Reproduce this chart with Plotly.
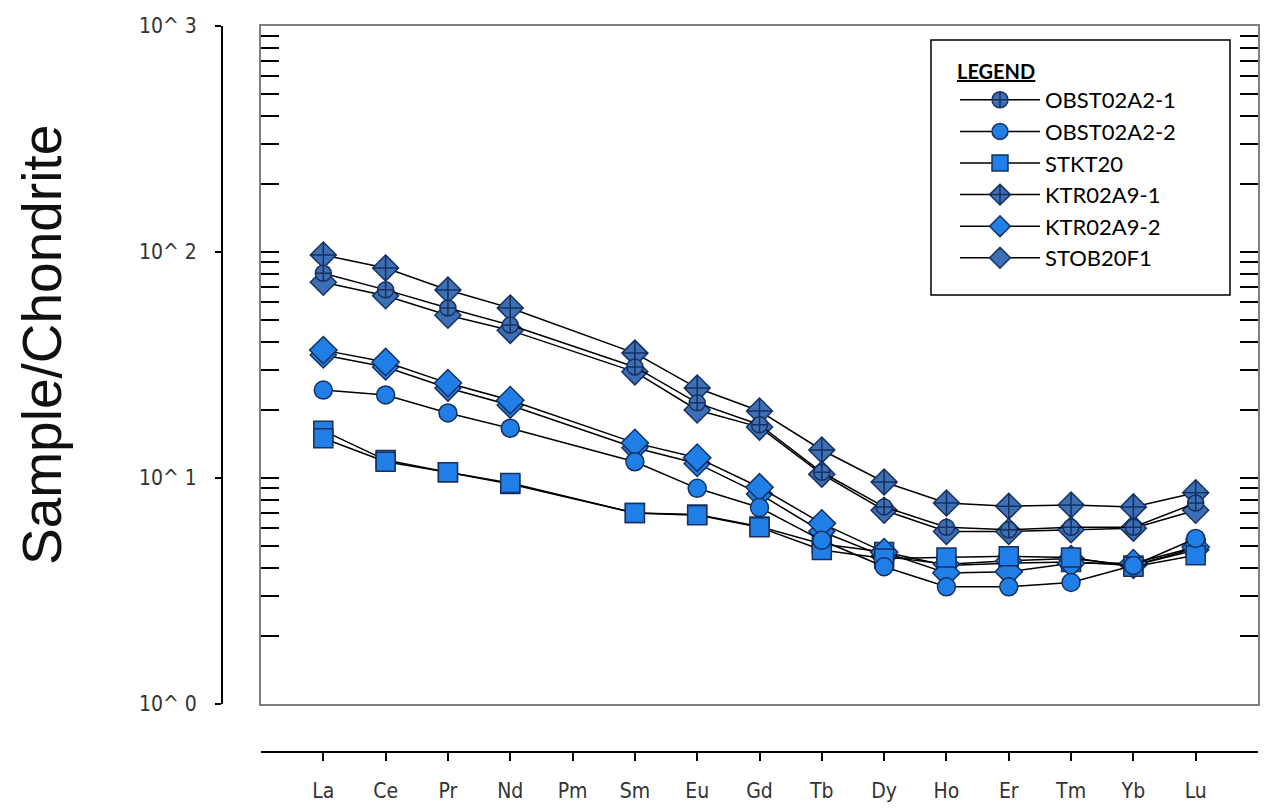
import plotly.graph_objects as go

elements = ["La", "Ce", "Pr", "Nd", "Pm", "Sm", "Eu", "Gd", "Tb", "Dy", "Ho", "Er", "Tm", "Yb", "Lu"]

OBST02A2_1 = [80.5, 68, 56.5, 47.5, None, 31, 21.5, 17.2, 10.6, 7.45, 6.05, 5.9, 6.05, 6.05, 7.75]
OBST02A2_2 = [24.5, 23.3, 19.4, 16.6, None, 11.8, 9.0, 7.4, 5.3, 4.05, 3.3, 3.3, 3.45, 4.1, 5.4]
STKT20 = [15.0, 11.8, 10.6, 9.5, None, 7.0, 6.85, 6.05, 4.8, 4.4, 4.45, 4.5, 4.45, 4.05, 4.55]
KTR02A9_1 = [97, 85, 67.9, 56.5, None, 35.7, 25.0, 19.8, 13.3, 9.6, 7.75, 7.5, 7.6, 7.45, 8.6]
KTR02A9_2 = [36.8, 32.6, 26.3, 22.1, None, 14.3, 12.3, 9.1, 6.3, 4.7, 3.8, 3.85, 4.2, 4.2, 4.95]
STOB20F1 = [73.5, 64, 52.5, 45, None, 29.5, 20, 16.8, 10.4, 7.2, 5.8, 5.8, 5.9, 6.0, 7.2]
extra_diamond = [35, 31, 25, 21, None, 13.6, 11.6, 8.5, 5.8, 4.5, 4.15, 4.3, 4.4, 4.1, 4.8]
extra_square = [16.2, 12.0, 10.6, 9.4, None, 7.0, 6.9, 6.1, 5.1, 4.7, 4.1, 4.2, 4.25, 4.1, 4.9]

y_tick_vals = [1, 10, 100, 1000]
y_tick_text = ["10^ 0", "10^ 1", "10^ 2", "10^ 3"]
y_minor_vals = [m * d for d in (1, 10, 100) for m in range(2, 10)]

BRIGHT = "#1f7fe6"
DARK = "#3c6fb4"
EDGE = "#17305f"

xs = list(range(len(elements)))

series = [
    ("OBST02A2-1", OBST02A2_1, "circle-cross", 16, DARK, True),
    ("OBST02A2-2", OBST02A2_2, "circle", 18, BRIGHT, True),
    ("STKT20", STKT20, "square", 19, BRIGHT, True),
    ("KTR02A9-1", KTR02A9_1, "diamond-cross", 20, DARK, True),
    ("KTR02A9-2", KTR02A9_2, "diamond", 21, BRIGHT, True),
    ("STOB20F1", STOB20F1, "diamond", 20, DARK, True),
    ("", extra_diamond, "diamond", 20, BRIGHT, False),
    ("", extra_square, "square", 19, BRIGHT, False),
]
names = [s[0] for s in series]

fig = go.Figure()
for name, vals, sym, size, col, show in series[::-1]:
    fig.add_trace(go.Scatter(
        x=xs, y=vals, mode="lines+markers", name=name, showlegend=show,
        connectgaps=True,
        line=dict(color="black", width=1.5),
        marker=dict(symbol=sym, size=size, color=col, line=dict(color=EDGE, width=1.5)),
        legendrank=names.index(name) if show else 1000,
    ))

fig.add_trace(go.Scatter(x=[None], y=[None], xaxis="x2", yaxis="y2",
                         showlegend=False, hoverinfo="skip"))

L, R, T, B = 10, 9, 26, 10
W, H = 1267, 808
pw = W - L - R
ph = H - T - B
def px_x(p):
    return (p - L) / pw
def px_y(p):
    return (H - B - p) / ph

xdom = [px_x(261), 1]
ydom = [px_y(704), 1]

axis_font = dict(family="Liberation Sans Narrow, DejaVu Sans Condensed, Roboto Condensed, sans-serif",
                 size=21, color="#333333")

fig.update_layout(
    width=W, height=H,
    margin=dict(l=L, r=R, t=T, b=B, autoexpand=False),
    paper_bgcolor="white", plot_bgcolor="white",
    showlegend=True,
    legend=dict(
        x=px_x(955), y=px_y(53), xanchor="left", yanchor="top",
        bgcolor="rgba(0,0,0,0)", borderwidth=0,
        font=dict(family="Lato, Open Sans, sans-serif", size=22, color="black"),
        title=dict(text="<b><u>LEGEND</u></b>", font=dict(family="Lato, Open Sans, sans-serif", size=20)),
        itemwidth=80,
    ),
    shapes=[dict(type="rect", xref="paper", yref="paper",
                 x0=px_x(931), x1=px_x(1230), y0=px_y(295), y1=px_y(40),
                 line=dict(color="black", width=1.5), fillcolor="white", layer="above")],
    xaxis=dict(domain=xdom, range=[-1, 15], showgrid=False, zeroline=False,
               showticklabels=False, ticks="", showline=True, mirror=True,
               linecolor="#7f7f7f", linewidth=2, automargin=False),
    yaxis=dict(domain=ydom, type="log", range=[0, 3], showgrid=False, zeroline=False,
               showticklabels=False, tickvals=y_tick_vals, ticks="inside", ticklen=18,
               tickwidth=2, tickcolor="black",
               minor=dict(tickvals=y_minor_vals, ticks="inside", ticklen=18, tickwidth=2,
                          tickcolor="black", showgrid=False),
               showline=True, mirror="allticks", linecolor="#7f7f7f", linewidth=2,
               automargin=False),
    xaxis2=dict(overlaying="x", anchor="free", position=px_y(752), domain=xdom,
                range=[-1, 15], showgrid=False, zeroline=False,
                tickvals=xs, ticktext=elements, ticks="outside", ticklen=8, tickwidth=2,
                tickcolor="black", showline=True, linecolor="black", linewidth=2,
                tickfont=axis_font, ticklabelstandoff=12, side="bottom", automargin=False),
    yaxis2=dict(overlaying="y", anchor="free", position=px_x(222), domain=ydom,
                type="log", range=[0, 3], showgrid=False, zeroline=False,
                tickvals=y_tick_vals, ticktext=y_tick_text, ticks="outside", ticklen=6,
                tickwidth=2, tickcolor="black", showline=True, linecolor="black",
                linewidth=2, tickfont=axis_font, ticklabelstandoff=14, side="left",
                automargin=False),
    annotations=[dict(
        text="Sample/Chondrite", textangle=-90, showarrow=False,
        xref="paper", yref="paper", x=px_x(42), y=px_y(345),
        xanchor="center", yanchor="middle",
        font=dict(family="Liberation Sans, Arial, sans-serif", size=55, color="#111111"),
    )],
)

fig.write_html("out.html")
